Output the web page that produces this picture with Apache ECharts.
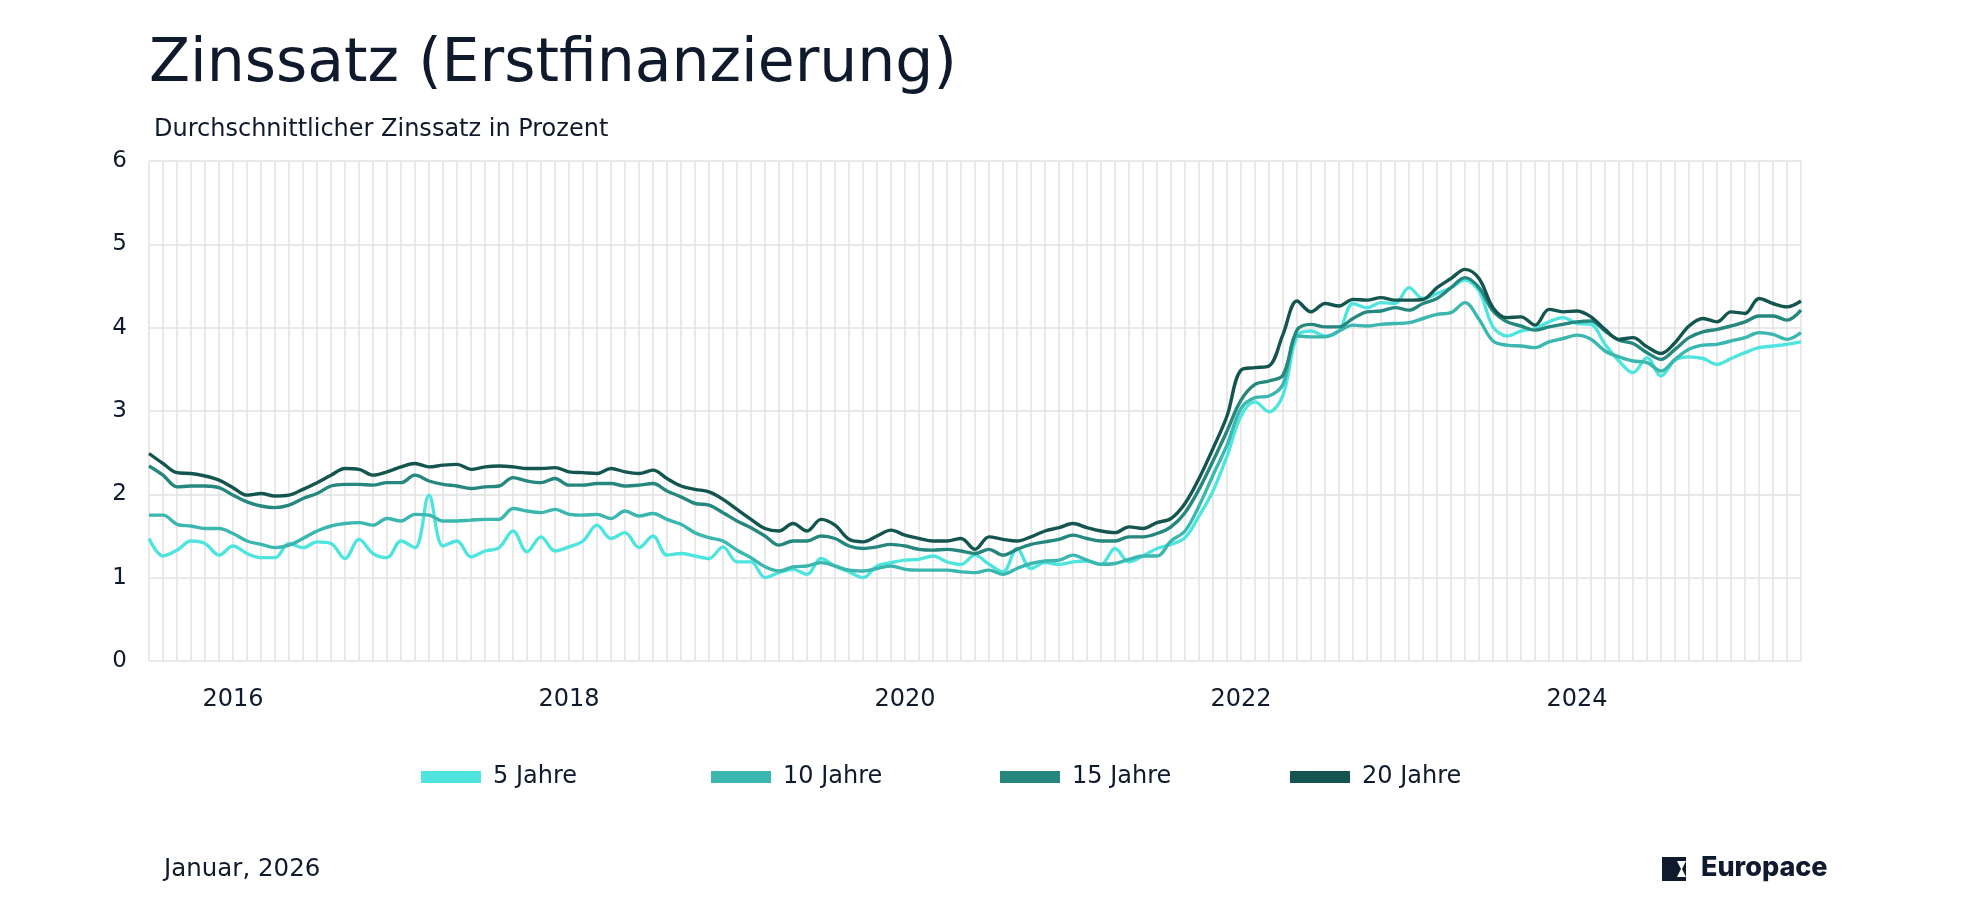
<!DOCTYPE html>
<html>
<head>
<meta charset="utf-8">
<script src="https://cdn.jsdelivr.net/npm/echarts@6/dist/echarts.min.js"></script>
<style>
html,body{margin:0;padding:0;background:#fff;}
#chart{width:1980px;height:900px;}
</style>
</head>
<body>
<div id="chart"></div>
<script>
// Monthly categories Jan 2016 .. Nov 2025
const startYear = 2016;
const monthCount = 119;
const categories = [];
for (let k = 0; k < monthCount; k++) {
  const y = startYear + Math.floor(k / 12);
  const m = (k % 12) + 1;
  categories.push(y + '-' + (m < 10 ? '0' + m : m));
}
const tickLabels = ['2016', '2018', '2020', '2022', '2024'];
const tickMonth = '07';

const seriesNames = ['5 Jahre', '10 Jahre', '15 Jahre', '20 Jahre'];

const jahre5 = [1.47,1.26,1.33,1.44,1.41,1.27,1.38,1.29,1.24,1.24,1.41,1.36,1.43,1.41,1.23,1.46,1.29,1.24,1.44,1.36,1.99,1.38,1.44,1.25,1.32,1.36,1.56,1.31,1.49,1.32,1.37,1.44,1.63,
1.47,1.54,1.36,1.50,1.27,1.29,1.26,1.23,1.37,1.19,1.19,1.00,1.06,1.10,1.04,1.23,1.14,1.07,1.00,1.14,1.18,1.21,1.22,1.26,1.19,1.16,1.27,1.16,1.07,1.35,1.11,1.18,
1.16,1.19,1.20,1.16,1.35,1.19,1.26,1.35,1.40,1.48,1.74,2.04,2.46,2.94,3.11,2.99,3.19,3.90,3.96,3.90,3.96,4.29,4.24,4.30,4.29,4.48,4.35,4.41,4.48,4.57,4.44,4.01,
3.90,3.96,3.99,4.07,4.12,4.05,4.04,3.80,3.60,3.46,3.64,3.42,3.61,3.65,3.63,3.56,3.63,3.70,3.76,3.78,3.80,3.83];

const jahre10 = [1.75,1.75,1.64,1.62,1.59,1.59,1.53,1.44,1.40,1.36,1.39,1.47,1.56,1.62,1.65,1.66,1.63,1.71,1.68,1.76,1.75,1.68,1.68,1.69,1.70,1.70,1.83,1.80,1.78,1.82,1.76,1.75,1.76,
1.71,1.80,1.74,1.77,1.70,1.64,1.54,1.48,1.44,1.33,1.24,1.13,1.08,1.13,1.14,1.18,1.14,1.09,1.08,1.11,1.14,1.10,1.09,1.09,1.09,1.07,1.06,1.09,1.04,1.11,1.17,1.20,
1.21,1.27,1.21,1.16,1.17,1.22,1.26,1.26,1.44,1.56,1.86,2.23,2.59,3.03,3.16,3.18,3.32,3.90,3.89,3.89,3.96,4.03,4.02,4.04,4.05,4.06,4.11,4.16,4.18,4.30,4.10,3.84,
3.79,3.78,3.76,3.83,3.87,3.91,3.86,3.72,3.65,3.60,3.58,3.48,3.62,3.74,3.79,3.80,3.84,3.88,3.94,3.92,3.86,3.94];

const jahre15 = [2.34,2.23,2.09,2.10,2.10,2.08,1.99,1.91,1.86,1.84,1.87,1.95,2.01,2.10,2.12,2.12,2.11,2.14,2.14,2.23,2.16,2.12,2.10,2.07,2.09,2.10,2.20,2.16,2.14,2.19,2.11,2.11,2.13,
2.13,2.10,2.11,2.13,2.04,1.97,1.89,1.87,1.78,1.68,1.60,1.50,1.39,1.44,1.44,1.50,1.47,1.38,1.35,1.37,1.40,1.38,1.34,1.33,1.34,1.32,1.29,1.34,1.27,1.34,1.40,1.43,
1.46,1.51,1.47,1.44,1.44,1.49,1.49,1.53,1.61,1.78,2.06,2.40,2.76,3.13,3.32,3.36,3.43,3.97,4.04,4.01,4.01,4.11,4.19,4.20,4.24,4.21,4.29,4.35,4.48,4.60,4.48,4.20,
4.07,4.02,3.97,4.01,4.04,4.07,4.08,3.96,3.85,3.81,3.70,3.62,3.74,3.88,3.95,3.98,4.02,4.07,4.14,4.14,4.09,4.21];

const jahre20 = [2.49,2.37,2.26,2.25,2.22,2.17,2.08,1.99,2.01,1.98,1.99,2.06,2.14,2.23,2.31,2.30,2.23,2.27,2.33,2.37,2.33,2.35,2.36,2.30,2.33,2.34,2.33,2.31,2.31,2.32,2.27,2.26,2.25,
2.31,2.27,2.25,2.29,2.19,2.10,2.06,2.03,1.94,1.82,1.70,1.59,1.56,1.65,1.56,1.70,1.63,1.46,1.43,1.50,1.57,1.51,1.47,1.44,1.44,1.47,1.34,1.49,1.46,1.44,1.49,1.56,
1.60,1.65,1.60,1.56,1.54,1.61,1.59,1.66,1.71,1.89,2.19,2.55,2.94,3.49,3.52,3.54,3.92,4.32,4.19,4.29,4.26,4.34,4.33,4.36,4.33,4.33,4.34,4.48,4.59,4.70,4.59,4.24,
4.12,4.13,4.03,4.22,4.19,4.20,4.13,3.98,3.86,3.88,3.77,3.69,3.82,4.02,4.11,4.07,4.19,4.17,4.35,4.29,4.25,4.32];

const seriesValues = [jahre5, jahre10, jahre15, jahre20];
const colors = ['#4FE5DE', '#3BB7B0', '#25877D', '#14564F'];
const textColor = '#0F1A2C';
const gridColor = '#E2E2E2';
const FONT = 'DejaVu Sans';

const chart = echarts.init(document.getElementById('chart'), null, {renderer: 'canvas'});

const legendLefts = [416, 706, 995, 1285];
const legends = seriesNames.map((n, i) => ({
  data: [n],
  left: legendLefts[i],
  top: 760,
  icon: 'rect',
  itemWidth: 60,
  itemHeight: 12,
  selectedMode: false,
  textStyle: {fontFamily: FONT, fontSize: 24, color: textColor, padding: [0, 0, 0, 7]}
}));

const option = {
  backgroundColor: '#ffffff',
  animation: false,
  color: colors,
  textStyle: {fontFamily: FONT},
  title: [
    {text: 'Zinssatz (Erstfinanzierung)', left: 144, top: 30,
     textStyle: {fontFamily: FONT, fontSize: 60, fontWeight: 'normal', color: textColor}},
    {text: 'Durchschnittlicher Zinssatz in Prozent', left: 149, top: 113,
     textStyle: {fontFamily: FONT, fontSize: 24, fontWeight: 'normal', color: textColor}},
    {text: 'Januar, 2026', left: 159, top: 852,
     textStyle: {fontFamily: FONT, fontSize: 24.5, fontWeight: 'normal', color: textColor}}
  ],
  legend: legends,
  grid: {left: 149, right: 179, top: 161, bottom: 239, containLabel: false},
  xAxis: {
    type: 'category',
    data: categories,
    boundaryGap: false,
    axisLine: {show: false},
    axisTick: {show: false},
    splitLine: {show: true, interval: 0, lineStyle: {color: gridColor, width: 1.5}},
    axisLabel: {
      interval: function (idx, val) {
        return tickLabels.indexOf(val.slice(0, 4)) >= 0 && val.slice(5) === tickMonth;
      },
      formatter: function (val) { return val.slice(0, 4); },
      margin: 27,
      fontFamily: FONT, fontSize: 24, color: textColor
    }
  },
  yAxis: {
    type: 'value',
    min: 0, max: 6, interval: 1,
    axisLine: {show: false},
    axisTick: {show: false},
    splitLine: {show: true, lineStyle: {color: gridColor, width: 1.5}},
    axisLabel: {margin: 22, fontFamily: FONT, fontSize: 23, color: textColor}
  },
  series: seriesNames.map((n, i) => ({
    name: n,
    type: 'line',
    data: seriesValues[i],
    smooth: 0.35,
    symbol: 'none',
    lineStyle: {width: 3.4, color: colors[i]},
    itemStyle: {color: colors[i]},
    z: 2 + i
  })),
  graphic: [
    {type: 'group', left: 1662, top: 854, children: [
      {type: 'rect', shape: {x: 0, y: 0, width: 24, height: 24}, style: {fill: '#101A2E'}},
      {type: 'polygon', shape: {points: [[24, 4], [15, 4], [19, 12], [15, 20], [24, 20], [20, 12]]}, style: {fill: '#ffffff'}},
      {type: 'text', x: 39, y: -3, style: {text: 'Europace', font: '800 27px Inter', fill: '#101A2E'}}
    ]}
  ]
};
chart.setOption(option);
</script>
</body>
</html>
